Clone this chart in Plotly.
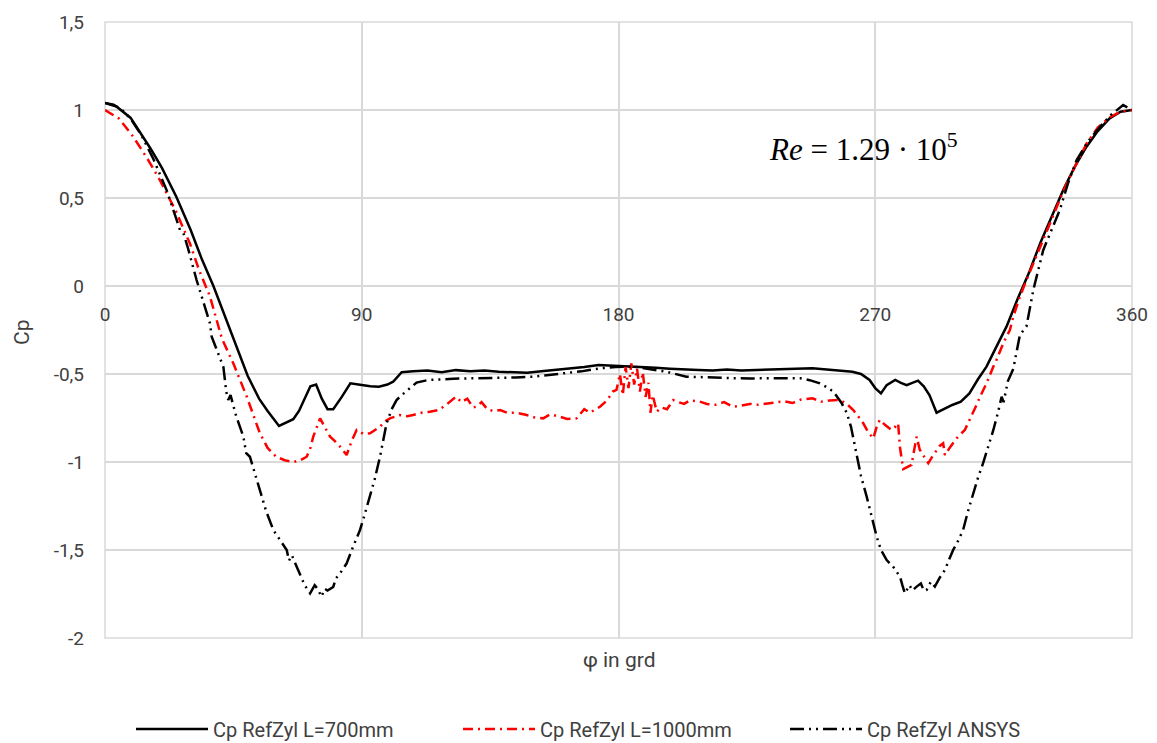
import plotly.graph_objects as go

# ---- data ----
phi_700 = [0, 4, 9, 16, 20, 25, 30, 34, 38, 42, 46, 50, 54, 57, 61, 64, 66, 68, 70, 72, 74, 76, 78, 80, 83, 86,
           90, 93, 96, 99, 101, 104, 108, 113, 118, 123, 128, 133, 138, 143, 148, 153, 158, 163, 168, 173, 178,
           183, 188, 193, 198, 203, 208, 213, 218, 223, 228, 233, 238, 243, 248, 253, 258, 262, 265, 268, 270,
           272, 274, 277, 279, 281, 283, 285, 287, 289, 291.5, 294, 297, 300, 303, 306, 309, 312, 316, 320, 324,
           328, 332, 336, 340, 344, 348, 352, 356, 360]
cp_700 = [1.04, 1.02, 0.955, 0.78, 0.67, 0.507, 0.32, 0.15, 0.0, -0.17, -0.345, -0.51, -0.64, -0.71, -0.795,
          -0.77, -0.757, -0.71, -0.64, -0.57, -0.56, -0.64, -0.70, -0.70, -0.63, -0.553,
          -0.563, -0.57, -0.572, -0.56, -0.544, -0.49, -0.485, -0.48, -0.49, -0.478, -0.485, -0.48, -0.487, -0.49,
          -0.493, -0.485, -0.477, -0.47, -0.46, -0.449, -0.452, -0.455, -0.46, -0.465, -0.47, -0.475, -0.477,
          -0.48, -0.475, -0.48, -0.477, -0.475, -0.472, -0.47, -0.468, -0.475, -0.48, -0.487, -0.50, -0.534,
          -0.58, -0.61, -0.563, -0.534, -0.55, -0.563, -0.55, -0.538, -0.57, -0.62, -0.72, -0.70, -0.676, -0.657,
          -0.61, -0.53, -0.458, -0.36, -0.231, -0.07, 0.08, 0.25, 0.40, 0.55, 0.68, 0.79, 0.88, 0.95, 0.99, 1.0]

phi_1000 = [0, 5, 9.8, 15, 19.3, 25, 29.8, 33, 36.8, 41, 45, 49.7, 54.3, 57, 60, 63, 66, 68.5, 70.7, 72, 73, 75.4,
            77, 78.9, 80.5, 82.4, 84.7, 86.5, 88.2, 90.5, 92.9, 94.5, 96.4, 98, 99.9, 103.4, 106, 108, 111, 113.9,
            117, 120, 123, 125, 127, 129, 130.2, 132, 134, 136, 138.5, 141, 144, 147.8, 150, 153.6, 156, 159, 162,
            165.3, 168, 170, 173.5, 176, 178, 179.3, 180.5, 181.5, 182.5, 183.5, 184.5, 185.5, 186.5, 187.5, 188.5,
            189.5, 190.5, 191.2, 192, 193.4, 195, 197, 199.2, 201, 203, 205, 208.5, 211, 214, 217, 220, 223, 226,
            229, 232, 235, 238, 241, 244, 248, 251, 254, 257.6, 260, 262.3, 264, 265.8, 267.5, 269.3, 270.5,
            271.6, 273.5, 275.7, 277, 278, 278.7, 279.8, 281, 282.7, 284, 284.5, 285.6, 287, 288.6, 290, 290.9,
            292.5, 293.8, 294.4, 296.5, 298.5, 301.4, 303.5, 305.5, 307, 309, 311.4, 312.5, 315, 317.2, 318.4,
            320.5, 323, 326, 329, 333.6, 337, 341, 344.1, 348, 352.3, 356, 360]
cp_1000 = [1.0, 0.95, 0.85, 0.72, 0.60, 0.42, 0.24, 0.09, -0.06, -0.3, -0.44, -0.629, -0.837, -0.92, -0.97, -0.99,
           -1.0, -0.99, -0.97, -0.92, -0.856, -0.752, -0.80, -0.856, -0.88, -0.913, -0.96, -0.88, -0.818, -0.84,
           -0.837, -0.82, -0.80, -0.77, -0.752, -0.733, -0.74, -0.733, -0.72, -0.714, -0.705, -0.67, -0.629, -0.66,
           -0.64, -0.69, -0.686, -0.66, -0.70, -0.71, -0.705, -0.72, -0.72, -0.733, -0.745, -0.752, -0.73, -0.74,
           -0.755, -0.752, -0.70, -0.72, -0.686, -0.65, -0.60, -0.59, -0.50, -0.62, -0.46, -0.58, -0.44, -0.56,
           -0.47, -0.60, -0.49, -0.63, -0.55, -0.72, -0.62, -0.714, -0.69, -0.70, -0.648, -0.66, -0.67, -0.65,
           -0.657, -0.67, -0.675, -0.66, -0.686, -0.68, -0.67, -0.675, -0.667, -0.66, -0.655, -0.665, -0.645,
           -0.638, -0.657, -0.65, -0.648, -0.67, -0.705, -0.74, -0.78, -0.83, -0.866, -0.80, -0.76, -0.79, -0.818,
           -0.80, -0.78, -0.922, -1.04, -1.03, -1.017, -0.90, -0.856, -0.93, -0.97, -1.007, -0.97, -0.95, -0.91,
           -0.894, -0.96, -0.91, -0.866, -0.818, -0.75, -0.676, -0.62, -0.553, -0.458, -0.42, -0.32, -0.25,
           -0.174, -0.07, 0.034, 0.15, 0.27, 0.45, 0.58, 0.71, 0.81, 0.90, 0.96, 0.99, 1.0]

phi_ansys = [0, 3, 6, 9, 13, 17, 21.6, 24, 26.3, 27.5, 29, 32.1, 34.5, 36.8, 37.4, 39.5, 41.5, 42.5, 43.2, 44, 46,
             48.5, 49.5, 50.8, 52.5, 54.3, 56.5, 59, 61.5, 63.7, 64.5, 65.5, 67.2, 68.5, 70, 71.9, 73.5, 74.5,
             75.9, 77, 78, 80, 81, 82.5, 84.7, 87, 89.4, 91, 92.9, 94.5, 96.4, 97.5, 98.7, 100.5, 102.2, 104, 106.9,
             109.2, 113.3, 117, 122, 127, 132, 138.5, 144, 150, 156, 161.8, 167, 173.5, 179, 185, 190, 196.8, 203.8,
             210, 215, 220.2, 226, 232, 238, 243.6, 247, 250.6, 253, 255.3, 258, 260, 261.5, 263.4, 265, 267,
             268.8, 270.5, 272, 274, 276.5, 278.7, 279.5, 280.4, 282, 283, 284.5, 286, 287, 288, 289.5, 290.9,
             292.5, 294.4, 296, 297.3, 299, 300.8, 302.5, 304.3, 306, 307.8, 309.5, 311.4, 313, 314.3, 315, 316.5,
             318.4, 320.7, 323, 325.4, 328.9, 331.5, 334.7, 337.5, 340.6, 344.5, 348.8, 352.5, 356.9, 360]
cp_ansys = [1.04, 1.03, 1.0, 0.95, 0.85, 0.72, 0.545, 0.43, 0.318, 0.30, 0.22, 0.034, -0.09, -0.212, -0.288, -0.38,
            -0.46, -0.60, -0.648, -0.62, -0.74, -0.856, -0.95, -0.97, -1.06, -1.16, -1.28, -1.386, -1.45, -1.5,
            -1.56, -1.53, -1.595, -1.64, -1.70, -1.746, -1.70, -1.72, -1.765, -1.72, -1.73, -1.71, -1.66, -1.63,
            -1.576, -1.48, -1.386, -1.30, -1.197, -1.10, -0.97, -0.87, -0.78, -0.70, -0.648, -0.62, -0.581, -0.549,
            -0.534, -0.53, -0.527, -0.525, -0.524, -0.524, -0.52, -0.515, -0.505, -0.496, -0.485, -0.468, -0.46,
            -0.458, -0.47, -0.487, -0.515, -0.52, -0.524, -0.524, -0.525, -0.524, -0.524, -0.524, -0.535, -0.553,
            -0.575, -0.60, -0.66, -0.72, -0.80, -0.95, -1.08, -1.197, -1.31, -1.424, -1.50, -1.557, -1.60, -1.652,
            -1.70, -1.746, -1.70, -1.73, -1.708, -1.69, -1.73, -1.727, -1.68, -1.708, -1.66, -1.614, -1.55, -1.5,
            -1.45, -1.386, -1.28, -1.178, -1.09, -1.007, -0.92, -0.818, -0.72, -0.629, -0.66, -0.54, -0.47, -0.278,
            -0.23, -0.023, 0.205, 0.31, 0.432, 0.58, 0.716, 0.82, 0.905, 0.97, 1.028, 1.0]

x_ticks = [0, 90, 180, 270, 360]
x_ticktext = ["0", "90", "180", "270", "360"]
y_ticks = [-2, -1.5, -1, -0.5, 0, 0.5, 1, 1.5]
y_ticktext = ["-2", "-1,5", "-1", "-0,5", "0", "0,5", "1", "1,5"]

names = ["Cp RefZyl L=700mm", "Cp RefZyl L=1000mm", "Cp RefZyl ANSYS"]

FONT = "Roboto, Arial, sans-serif"
GRID = "#d9d9d9"
TXT = "#404040"

fig = go.Figure()
fig.add_trace(go.Scatter(x=phi_700, y=cp_700, mode="lines", name=names[0],
                         line=dict(color="black", width=2.5)))
fig.add_trace(go.Scatter(x=phi_1000, y=cp_1000, mode="lines", name=names[1],
                         line=dict(color="#ff0000", width=2.5, dash="10px,5px,2px,5px")))
fig.add_trace(go.Scatter(x=phi_ansys, y=cp_ansys, mode="lines", name=names[2],
                         line=dict(color="black", width=2.5, dash="14px,5px,2px,5px,2px,5px")))

W, H = 1149, 735  # page body has an 8px margin at top/left
ymin, ymax = -2, 1.5
fig.update_layout(
    width=W, height=H,
    margin=dict(l=97, r=25, t=14, b=105, autoexpand=False),
    paper_bgcolor="white", plot_bgcolor="white",
    font=dict(family=FONT, size=19, color=TXT),
    showlegend=True,
    legend=dict(orientation="h", xref="container", yref="container",
                x=123 / W, xanchor="left", y=1 - 721 / H, yanchor="middle",
                itemwidth=72, entrywidth=240, entrywidthmode="pixels",
                font=dict(size=20, color=TXT)),
    xaxis=dict(range=[0, 360], tickvals=x_ticks, ticktext=x_ticktext,
               showgrid=True, gridcolor=GRID, gridwidth=1.5,
               zeroline=False, showline=False, ticks="", automargin=False,
               anchor="free", position=(0 - ymin) / (ymax - ymin), ticklabelstandoff=15,
               tickfont=dict(size=19, color=TXT)),
    yaxis=dict(range=[ymin, ymax], tickvals=y_ticks, ticktext=y_ticktext,
               showgrid=True, gridcolor=GRID, gridwidth=1.5, automargin=False,
               zeroline=True, zerolinecolor=GRID, zerolinewidth=1.5,
               showline=False, ticks="", ticklabelstandoff=20,
               tickfont=dict(size=19, color=TXT)),
    annotations=[
        dict(text="Cp", textangle=-90, xref="paper", yref="paper", x=-0.081, y=(0 - ymin) / (ymax - ymin) - 0.075,
             showarrow=False, font=dict(size=21, color=TXT), xanchor="center", yanchor="middle"),
        dict(text="φ in grd", xref="paper", yref="paper", x=0.5, y=-0.036,
             showarrow=False, font=dict(size=21, color=TXT), xanchor="center", yanchor="middle"),
        dict(text="<i>Re</i> = 1.29 · 10<sup>5</sup>", xref="paper", yref="paper", x=0.645, y=0.7955,
             showarrow=False, font=dict(size=31, color="black", family="Liberation Serif, DejaVu Serif, serif"),
             xanchor="left", yanchor="middle"),
    ],
)
fig.add_shape(type="rect", xref="paper", yref="paper", x0=0, y0=0, x1=1, y1=1,
              line=dict(color=GRID, width=1.5), layer="below")

fig.write_html("out.html")
